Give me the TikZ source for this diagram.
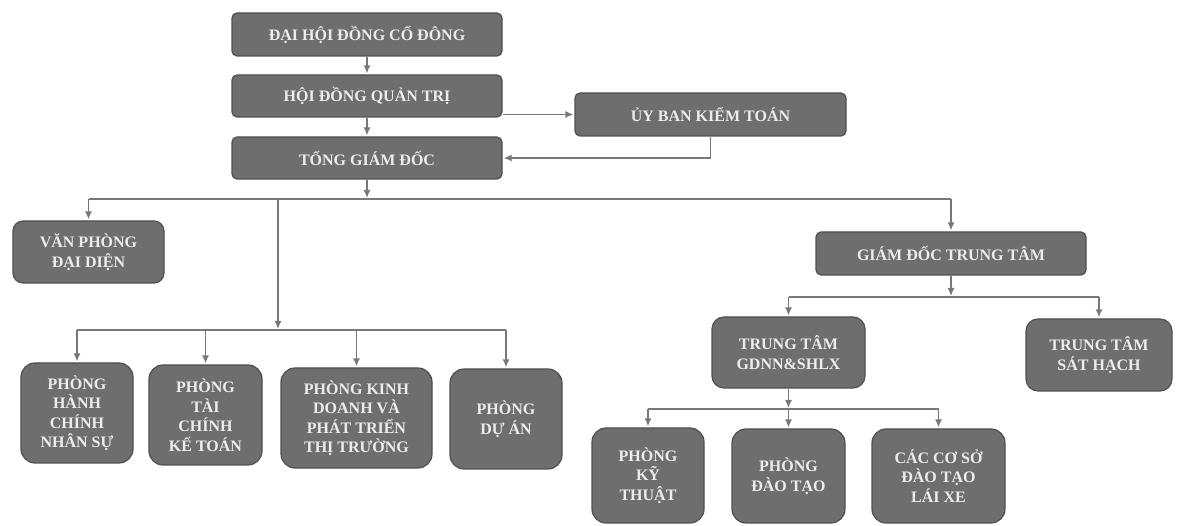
\documentclass[tikz,border=0pt]{standalone}
\usepackage{fontspec}
\setmainfont{Liberation Serif}
\usepackage{tikz}
\usetikzlibrary{shapes,arrows,arrows.meta}
\usetikzlibrary{calc}
\tikzstyle{every node}=[font=\fontsize{16}{19.5}\selectfont\bfseries]
\tikzstyle{box}=[draw=boxline,fill=boxgray,text=boxtext,line width=1.2pt,rounded corners=5pt,align=center,inner sep=0pt]
\tikzstyle{dept}=[box,rounded corners=14pt]
\tikzstyle{link}=[draw=linegray,line width=1.4pt,-{Latex[length=8pt,width=7pt]},shorten >=1pt]
\tikzstyle{bus}=[draw=linegray,line width=1.4pt]

\begin{document}
\begin{tikzpicture}[x=1pt,y=1pt]
\definecolor{boxgray}{RGB}{110,110,110}
\definecolor{boxline}{RGB}{80,80,80}
\definecolor{boxtext}{RGB}{236,236,236}
\definecolor{linegray}{RGB}{120,120,120}
\useasboundingbox (0,0) rectangle (1184,526);

% top of the chart
\node[box,minimum width=270,minimum height=43] (dhdcd) at (367,491.5) {ĐẠI HỘI ĐỒNG CỔ ĐÔNG};
\node[box,minimum width=270,minimum height=42] (hdqt) at (367,430) {HỘI ĐỒNG QUẢN TRỊ};
\node[box,minimum width=270,minimum height=42] (tgd) at (367,368) {TỔNG GIÁM ĐỐC};
\node[box,minimum width=271,minimum height=43] (ubkt) at (710.5,411.5) {ỦY BAN KIỂM TOÁN};

\draw[link] (dhdcd) -- (hdqt);
\draw[link] (hdqt) -- (tgd);
\draw[link] (hdqt.east |- ubkt.west) -- (ubkt.west);
\draw[link] (ubkt.south) |- (tgd.east);

% second level
\node[box,rounded corners=10pt,minimum width=151,minimum height=62] (vpdd) at (88.5,274) {VĂN PHÒNG\\ĐẠI DIỆN};
\node[box,minimum width=270,minimum height=43] (gdtt) at (951,272.5) {GIÁM ĐỐC TRUNG TÂM};

\coordinate (bus1) at (367,327);
\coordinate (drop) at (278,327);
\draw[link] (tgd) -- (bus1);
\draw[bus] (vpdd.north |- bus1) -- (gdtt.north |- bus1);
\draw[link] (vpdd.north |- bus1) -- (vpdd.north);
\draw[link] (gdtt.north |- bus1) -- (gdtt.north);

% phong ban
\node[dept,minimum width=112,minimum height=100] (hcns) at (77,113) {PHÒNG\\HÀNH\\CHÍNH\\NHÂN SỰ};
\node[dept,minimum width=113,minimum height=100] (tckt) at (205.5,111) {PHÒNG\\TÀI\\CHÍNH\\KẾ TOÁN};
\node[dept,minimum width=151,minimum height=100] (kdpt) at (356.5,108) {PHÒNG KINH\\DOANH VÀ\\PHÁT TRIỂN\\THỊ TRƯỜNG};
\node[dept,minimum width=112,minimum height=100] (duan) at (506,107) {PHÒNG\\DỰ ÁN};

\coordinate (bus2) at (278,196);
\draw[link] (drop) -- (bus2);
\draw[bus] (hcns.north |- bus2) -- (duan.north |- bus2);
\draw[link] (hcns.north |- bus2) -- (hcns.north);
\draw[link] (tckt.north |- bus2) -- (tckt.north);
\draw[link] (kdpt.north |- bus2) -- (kdpt.north);
\draw[link] (duan.north |- bus2) -- (duan.north);

% trung tam
\node[dept,rounded corners=12pt,minimum width=153,minimum height=71] (gdnn) at (788.5,173.5) {TRUNG TÂM\\GDNN\&SHLX};
\node[dept,rounded corners=12pt,minimum width=146,minimum height=72] (sh) at (1099,171) {TRUNG TÂM\\SÁT HẠCH};

\coordinate (bus3) at (951,229);
\draw[link] (gdtt) -- (bus3);
\draw[bus] (gdnn.north |- bus3) -- (sh.north |- bus3);
\draw[link] (gdnn.north |- bus3) -- (gdnn.north);
\draw[link] (sh.north |- bus3) -- (sh.north);

\node[dept,minimum width=112,minimum height=95] (kt) at (648,50.5) {PHÒNG\\KỸ\\THUẬT};
\node[dept,minimum width=113,minimum height=94] (dt) at (788.5,50) {PHÒNG\\ĐÀO TẠO};
\node[dept,minimum width=133,minimum height=94] (ccs) at (938.5,50) {CÁC CƠ SỞ\\ĐÀO TẠO\\LÁI XE};

\coordinate (bus4) at (788.5,117);
\draw[link] (gdnn) -- (bus4);
\draw[bus] (kt.north |- bus4) -- (ccs.north |- bus4);
\draw[link] (bus4) -- (dt);
\draw[link] (kt.north |- bus4) -- (kt.north);
\draw[link] (ccs.north |- bus4) -- (ccs.north);
\end{tikzpicture}
\end{document}
